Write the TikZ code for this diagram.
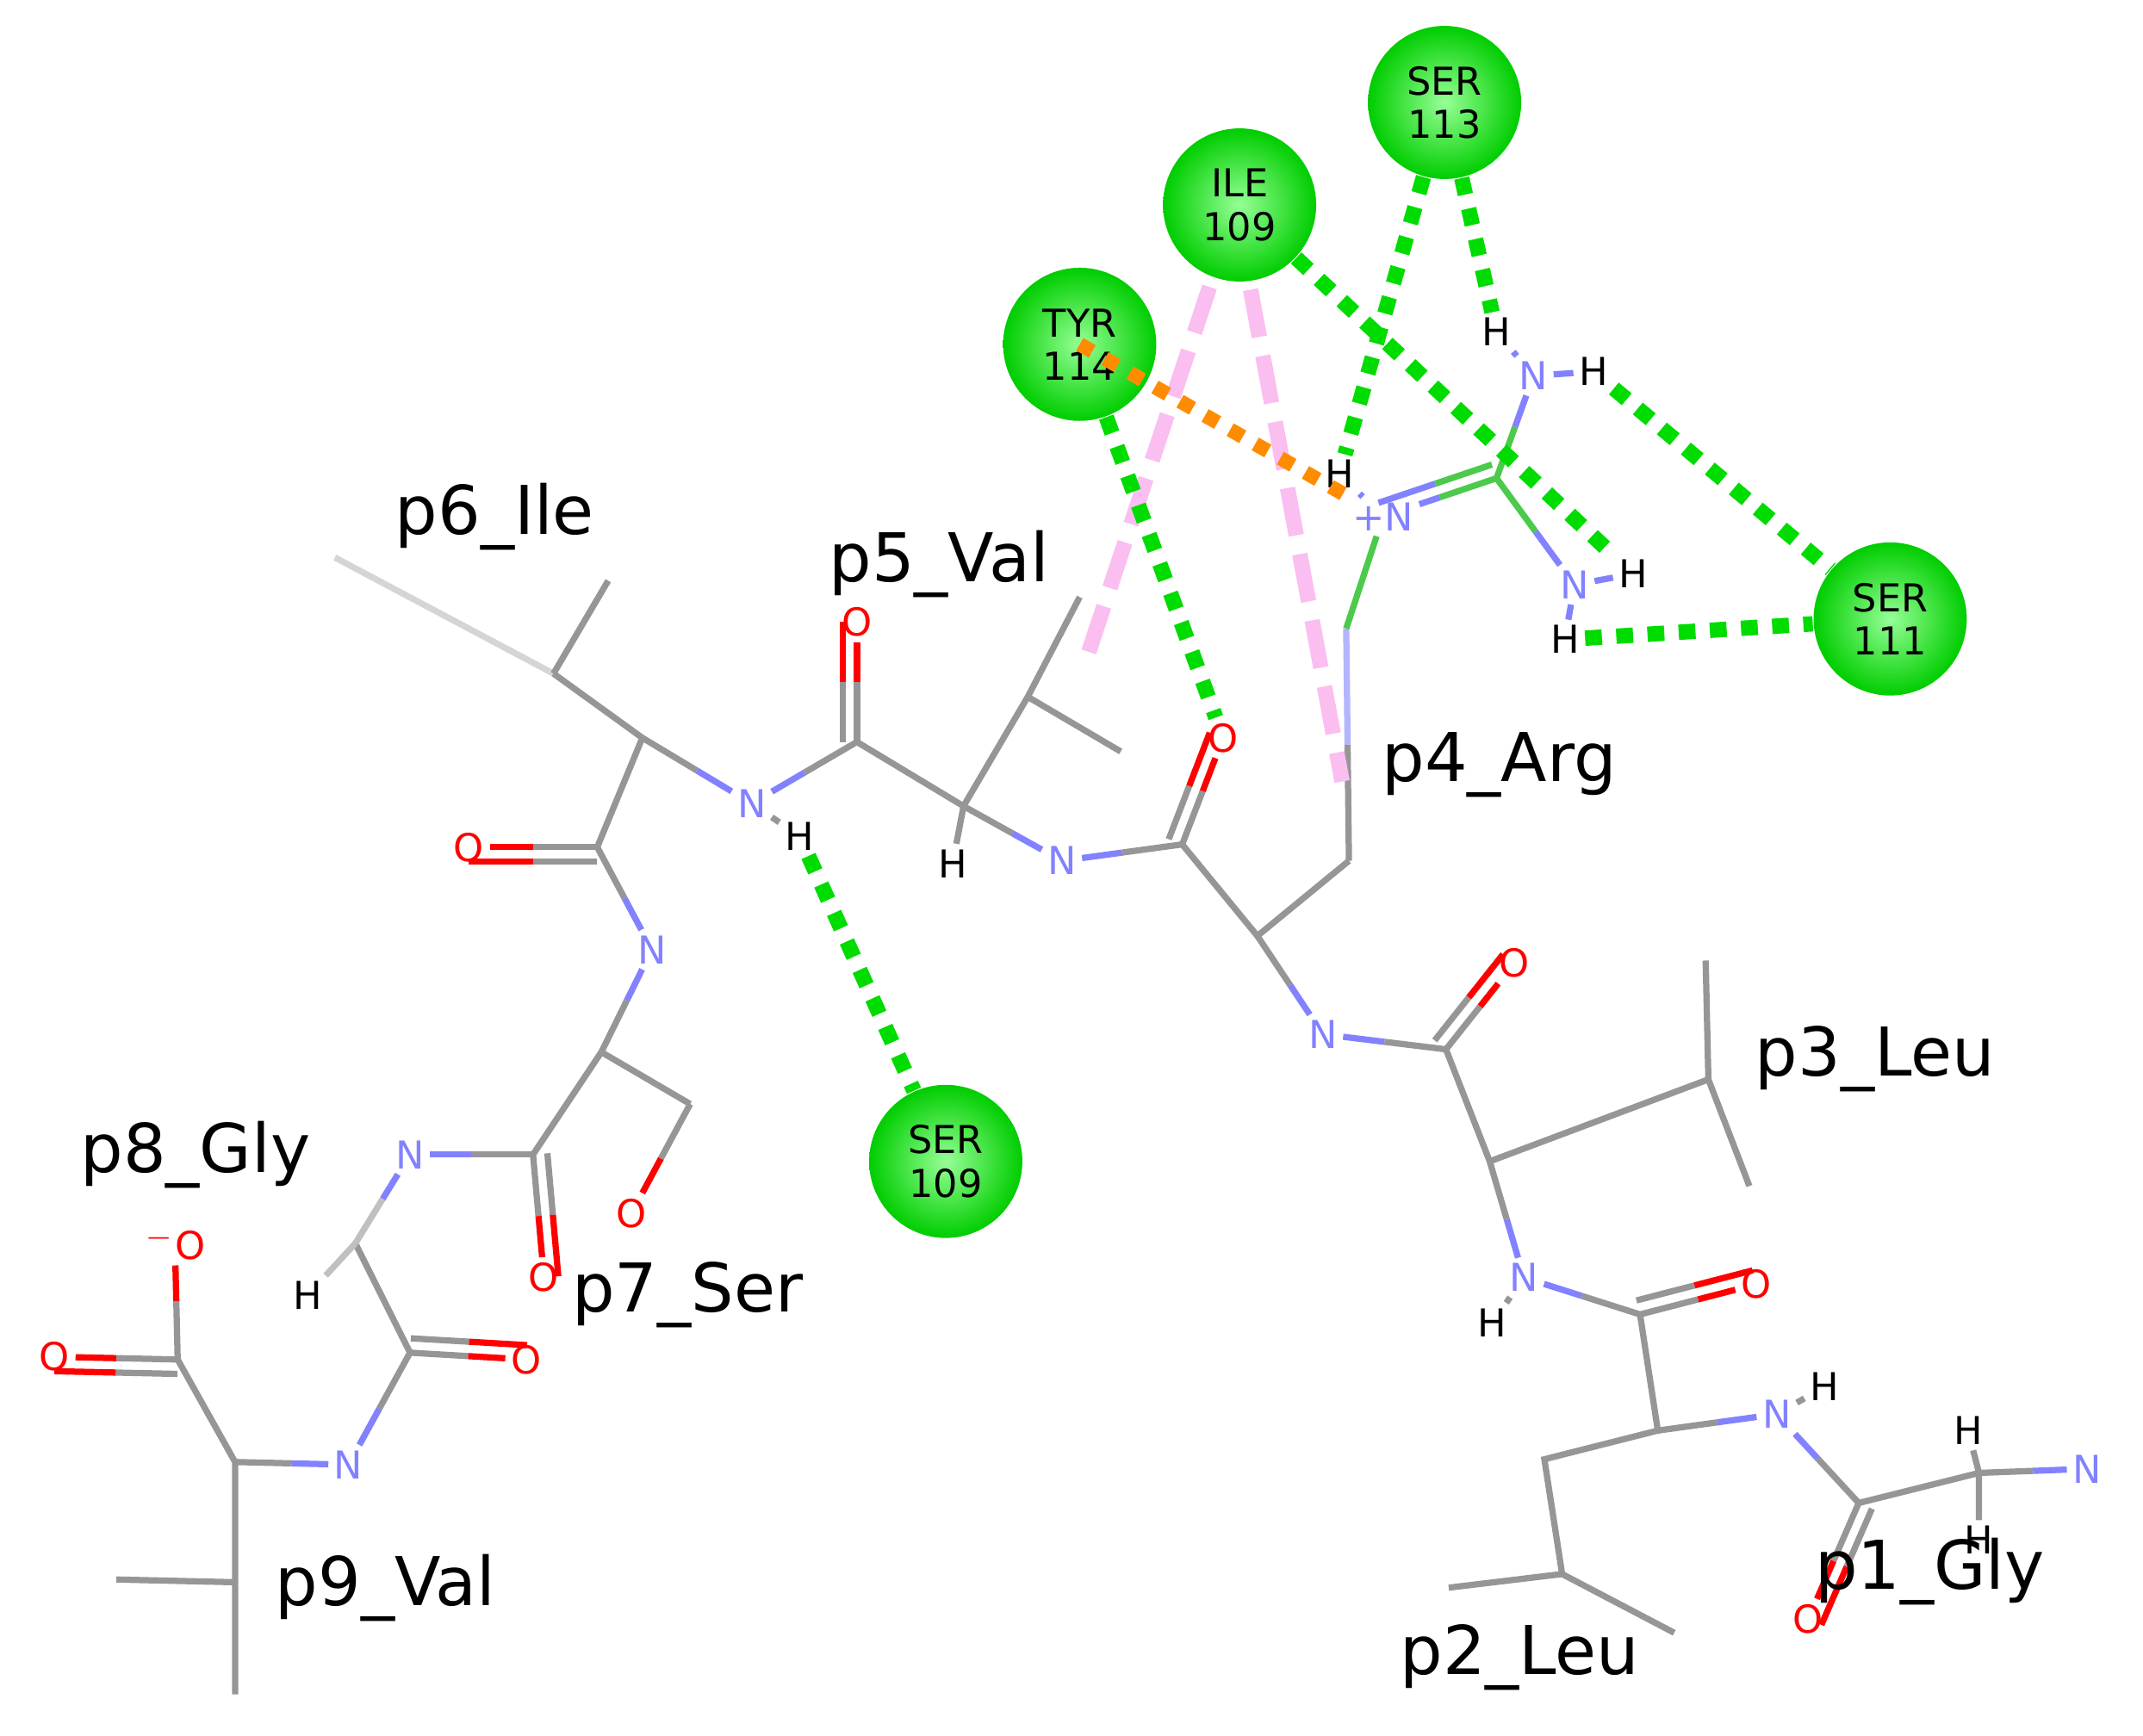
\documentclass[tikz,border=0pt]{standalone}
\usepackage{fontspec}
\setmainfont{DejaVu Sans}
\usetikzlibrary{calc}
\definecolor{bg}{RGB}{150,150,150}
\definecolor{nb}{RGB}{130,130,255}
\definecolor{hb}{RGB}{0,220,0}
\definecolor{ob}{RGB}{255,140,0}
\definecolor{pk}{RGB}{250,190,240}
\definecolor{gin}{RGB}{150,255,150}
\definecolor{gout}{RGB}{0,205,0}
\begin{document}
\begin{tikzpicture}[x=0.01cm,y=-0.01cm,
 atm/.style={inner sep=1pt,font=\fontsize{8}{8}\selectfont},
 N/.style={atm,text=nb},O/.style={atm,text=red},H/.style={atm,text=black},
 lab/.style={font=\fontsize{14}{14}\selectfont},
 res/.style={circle,inner sep=0pt,minimum size=1.12cm,shading=radial,inner color=gin,outer color=gout,
   font=\fontsize{8}{9}\selectfont,align=center},
 hbond/.style={hb,line width=3.2pt,dash pattern=on 3.5pt off 3pt},
 pkb/.style={pk,line width=3.2pt,dash pattern=on 10pt off 4pt},
 obond/.style={ob,line width=3pt,dash pattern=on 3pt off 3pt},
 b/.style={line width=1.3pt}]
\useasboundingbox (0,0) rectangle (1568,1270);
\newcommand\bd[4]{\draw[b,#3] (#1) -- ($(#1)!.5!(#2)$); \draw[b,#4] ($(#1)!.5!(#2)$) -- (#2);}
\newcommand\db[4]{\bd{#1}{#2}{#3}{#4}
 \draw[b,#3] ($(#1)!3pt!90:(#2)$) -- ($($(#1)!3pt!90:(#2)$)!.5!($(#2)!3pt!-90:(#1)$)$);
 \draw[b,#4] ($($(#1)!3pt!90:(#2)$)!.5!($(#2)!3pt!-90:(#1)$)$) -- ($(#2)!3pt!-90:(#1)$);}
% carbons
\foreach \n/\x/\y in {a0/245/408,a1/405/493,a2/445/425,a3/470/540,a4/437/620,a5/440/770,a6/505/808,
 a7/390/845,a8/260/910,a9/300/990,a10/172/1070,a11/130/995,a12/172/1158,a13/85/1156,a14/172/1240,
 b1/627/543,b2/705/590,b3/752/510,b4/790/437,b5/820/550,b6/865/618,b7/920/685,b8/987/630,b9/985/460,
 c1/1058/768,c2/1090/850,c3/1250/790,c4/1248/703,c5/1280/868,c6/1200/962,c7/1213/1047,c8/1130/1068,
 c9/1143/1152,c10/1060/1162,c11/1225/1195,c12/1360/1100,c13/1448/1078,g1/1095/350}
 \coordinate (\n) at (\x,\y);
% atoms
\node[N] (n1) at (550,588) {N};
\node[N] (n2) at (477,695) {N};
\node[N] (n3) at (300,845) {N};
\node[N] (n4) at (255,1072) {N};
\node[N] (n5) at (777,630) {N};
\node[N] (n6) at (968,757) {N};
\node[N] (n7) at (1115,935) {N};
\node[N] (n8) at (1300,1035) {N};
\node[N] (n9) at (1527,1075) {N};
\node[N] (np) at (1012,378) {+N};
\node[N] (na) at (1122,275) {N};
\node[N] (nb2) at (1152,428) {N};
\node[O] (o1) at (343,620) {O};
\node[O] (o2) at (462,888) {O};
\node[O] (o3) at (398,935) {O};
\node[O] (o4) at (385,995) {O};
\node[O] (o5) at (40,993) {O};
\node[O] (o6) at (128,910) {$^{-}$O};
\node[O] (o7) at (627,455) {O};
\node[O] (o8) at (895,540) {O};
\node[O] (o9) at (1108,705) {O};
\node[O] (o10) at (1285,940) {O};
\node[O] (o11) at (1323,1185) {O};
\node[H] (h1) at (585,612) {H};
\node[H] (h2) at (697,632) {H};
\node[H] (h3) at (225,948) {H};
\node[H] (h4) at (1092,968) {H};
\node[H] (h5) at (1335,1015) {H};
\node[H] (h6) at (1440,1047) {H};
\node[H] (h7) at (1448,1127) {H};
\node[H] (h8) at (980,347) {H};
\node[H] (h9) at (1095,243) {H};
\node[H] (h10) at (1166,272) {H};
\node[H] (h11) at (1195,420) {H};
\node[H] (h12) at (1145,468) {H};
% bonds
\draw[b,bg!40] (a0) -- (a1);
\draw[b,bg] (a1)--(a2) (a1)--(a3) (a3)--(a4) (a5)--(a6) (a5)--(a7) (a8)--(a9) (a10)--(a11) (a10)--(a12)--(a13) (a12)--(a14)
 (b1)--(b2)--(b3)--(b4) (b3)--(b5) (b6)--(b7)--(b8) (c1)--(c2)--(c3)--(c4) (c3)--(c5) (c6)--(c7)--(c8)--(c9)--(c10) (c9)--(c11)
 (c12)--(c13) (c13)--(h6) (c13)--(h7);
\bd{a3}{n1}{bg}{nb} \bd{a4}{n2}{bg}{nb} \bd{n2}{a5}{nb}{bg} \bd{a6}{o2}{bg}{red}
\bd{a7}{n3}{bg}{nb} \bd{n3}{a8}{nb}{bg!60} \draw[b,bg!60] (a8)--(h3);
\bd{a9}{n4}{bg}{nb} \bd{n4}{a10}{nb}{bg} \bd{a11}{o6}{bg}{red}
\bd{n1}{b1}{nb}{bg} \draw[b,bg] (n1)--(h1); \draw[b,bg] (b2)--(h2);
\bd{b2}{n5}{bg}{nb} \bd{n5}{b6}{nb}{bg} \bd{b7}{n6}{bg}{nb} \bd{n6}{c1}{nb}{bg}
\bd{c2}{n7}{bg}{nb} \bd{n7}{c6}{nb}{bg} \draw[b,bg] (n7)--(h4);
\bd{c7}{n8}{bg}{nb} \bd{n8}{c12}{nb}{bg} \draw[b,bg] (n8)--(h5); \bd{c13}{n9}{bg}{nb}
\db{a4}{o1}{bg}{red} \db{a7}{o3}{bg}{red} \db{a9}{o4}{bg}{red} \db{a11}{o5}{bg}{red}
\db{b1}{o7}{bg}{red} \db{b6}{o8}{bg}{red} \db{c1}{o9}{bg}{red} \db{c6}{o10}{bg}{red} \db{c12}{o11}{bg}{red}
% Arg side chain
\bd{b8}{b9}{bg}{nb!60} \draw[b,green!50!bg] (b9) -- (np);
\db{np}{g1}{nb}{green!50!bg}
\bd{g1}{na}{green!50!bg}{nb} \bd{g1}{nb2}{green!50!bg}{nb}
\draw[b,nb] (na)--(h9) (na)--(h10) (nb2)--(h11) (nb2)--(h12) (np)--(h8);
% residues
\node[res] (s113) at (1057,75) {SER\\113};
\node[res] (i109) at (907,150) {ILE\\109};
\node[res] (t114) at (790,252) {TYR\\114};
\node[res] (s111) at (1383,453) {SER\\111};
\node[res] (s109) at (692,850) {SER\\109};
% interactions
\draw[pkb] (885,210) -- (795,482);
\draw[pkb] (915,212) -- (982,572);
\draw[obond] (t114.center) -- (np);
\draw[hbond] (s113) -- (h8);
\draw[hbond] (s113) -- (h9);
\draw[hbond] (i109) -- (h11);
\draw[hbond] (h10) -- (s111);
\draw[hbond] (h12) -- (s111);
\draw[hbond] (t114) -- (o8);
\draw[hbond] (h1) -- (s109);
% labels
\node[lab] at (362,378) {p6\_Ile};
\node[lab] at (687,413) {p5\_Val};
\node[lab] at (1097,560) {p4\_Arg};
\node[lab] at (1372,775) {p3\_Leu};
\node[lab] at (1112,1213) {p2\_Leu};
\node[lab] at (1412,1150) {p1\_Gly};
\node[lab] at (503,948) {p7\_Ser};
\node[lab] at (143,845) {p8\_Gly};
\node[lab] at (282,1162) {p9\_Val};
\end{tikzpicture}
\end{document}
